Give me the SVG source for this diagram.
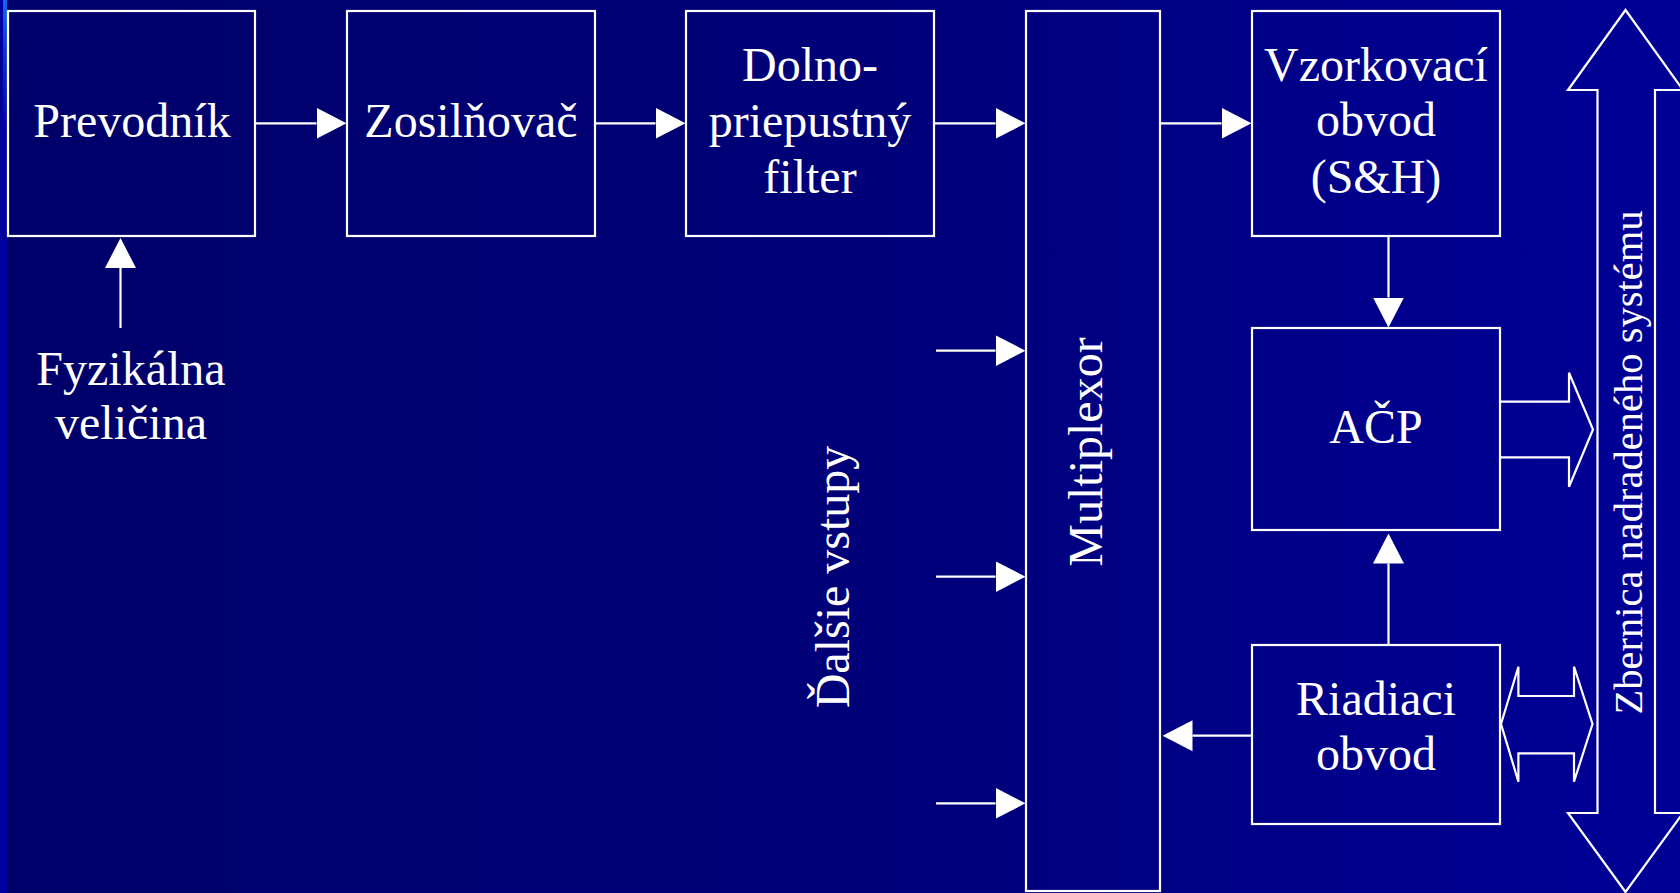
<svg xmlns="http://www.w3.org/2000/svg" width="1680" height="893" viewBox="0 0 1680 893">
<defs>
<linearGradient id="bg" x1="0" y1="0" x2="1" y2="0">
<stop offset="0" stop-color="#00006a"/>
<stop offset="0.5" stop-color="#000078"/>
<stop offset="1" stop-color="#000096"/>
</linearGradient>
<linearGradient id="strip" x1="0" y1="0" x2="0" y2="1">
<stop offset="0" stop-color="#1864f4"/>
<stop offset="0.4" stop-color="#0a36c8"/>
<stop offset="1" stop-color="#0000a0"/>
</linearGradient>
<marker id="ah" viewBox="0 -16 30 32" refX="0" refY="0" markerWidth="30" markerHeight="32" markerUnits="userSpaceOnUse" orient="auto">
<path d="M0,-15.5 L30,0 L0,15.5 z" fill="#ffffff"/>
</marker>
</defs>
<style>
.box{fill:none;stroke:#ffffff;stroke-width:2.2}
.ln{fill:none;stroke:#ffffff;stroke-width:2.2;marker-end:url(#ah)}
.blk{fill:none;stroke:#ffffff;stroke-width:2.2;stroke-linejoin:miter}
.t{font-family:'Liberation Serif','Times New Roman',serif;fill:#ffffff;font-size:48px;text-anchor:middle}
.bus{font-size:40.5px}
</style>
<rect x="0" y="0" width="1680" height="893" fill="url(#bg)"/>
<rect x="0" y="0" width="7" height="893" fill="#0000a0"/>
<rect x="3" y="0" width="4" height="130" fill="url(#strip)"/>

<g font-family="Liberation Serif, serif">
<g id="prevodnik">
<rect class="box" x="8" y="11" width="247" height="225"/>
<text class="t" x="132" y="137">Prevodník</text>
</g>
<g id="zosilnovac">
<rect class="box" x="347" y="11" width="248" height="225"/>
<text class="t" x="471" y="137">Zosilňovač</text>
</g>
<g id="dolnopriepustny">
<rect class="box" x="686" y="11" width="248" height="225"/>
<text class="t" x="810" y="81">Dolno-</text>
<text class="t" x="810" y="137">priepustný</text>
<text class="t" x="810" y="193">filter</text>
</g>
<g id="multiplexor">
<rect class="box" x="1026" y="11" width="134" height="880"/>
<text class="t" transform="translate(1101.5,452) rotate(-90)">Multiplexor</text>
</g>
<g id="vzorkovaci">
<rect class="box" x="1252" y="11" width="248" height="225"/>
<text class="t" x="1376" y="81">Vzorkovací</text>
<text class="t" x="1376" y="136">obvod</text>
<text class="t" x="1376" y="193">(S&amp;H)</text>
</g>
<g id="acp">
<rect class="box" x="1252" y="328" width="248" height="202"/>
<text class="t" x="1376" y="443">AČP</text>
</g>
<g id="riadiaci">
<rect class="box" x="1252" y="645" width="248" height="179"/>
<text class="t" x="1376" y="715">Riadiaci</text>
<text class="t" x="1376" y="770">obvod</text>
</g>
<g id="fyzikalna">
<text class="t" x="131" y="385">Fyzikálna</text>
<text class="t" x="131" y="439">veličina</text>
</g>
<g id="dalsie">
<text class="t" transform="translate(848.5,577) rotate(-90)">Ďalšie vstupy</text>
</g>
<g id="zbernica">
<path class="blk" d="M1625.5,10 L1683,90 L1655,90 L1655,813 L1683,813 L1625.5,892 L1568,813 L1597.5,813 L1597.5,90 L1568,90 Z"/>
<text class="t bus" transform="translate(1642,462.5) rotate(-90)">Zbernica nadradeného systému</text>
</g>
</g>

<g id="connectors">
<path class="ln" d="M256,123.3 L316.5,123.3"/>
<path class="ln" d="M596,123.3 L655.5,123.3"/>
<path class="ln" d="M935,123.3 L995.5,123.3"/>
<path class="ln" d="M1161,123.3 L1221.5,123.3"/>
<path class="ln" d="M1388.5,237 L1388.5,297.5"/>
<path class="ln" d="M120.5,328 L120.5,268"/>
<path class="ln" d="M936,350.7 L995.5,350.7"/>
<path class="ln" d="M936,576.7 L995.5,576.7"/>
<path class="ln" d="M936,803.3 L995.5,803.3"/>
<path class="ln" d="M1388.5,644 L1388.5,563.5"/>
<path class="ln" d="M1251,735.7 L1192.5,735.7"/>
<path class="blk" d="M1501,401.7 L1569,401.7 L1569,372.7 L1593,429.5 L1569,486.7 L1569,457.3 L1501,457.3"/>
<path class="blk" d="M1501,724 L1518.4,666.7 L1518.4,696 L1574,696 L1574,666.7 L1592.5,724 L1574,781.7 L1574,753.3 L1518.4,753.3 L1518.4,781.7 Z"/>
</g>
</svg>
